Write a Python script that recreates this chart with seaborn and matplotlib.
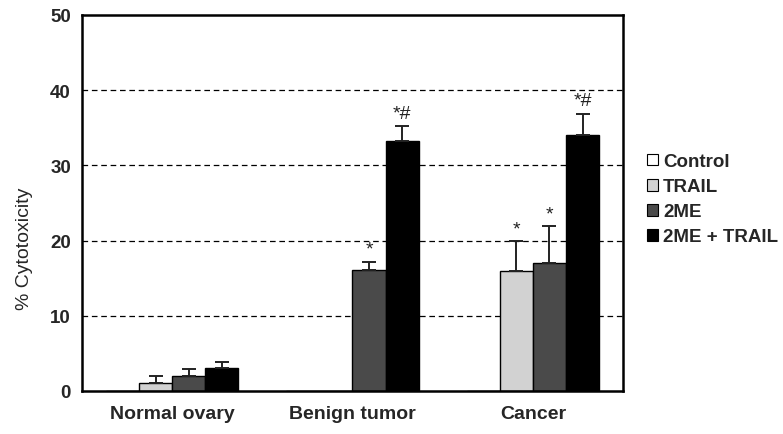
import matplotlib
matplotlib.use("Agg")
import matplotlib.pyplot as plt
import seaborn as sns
import pandas as pd
import numpy as np
from matplotlib.patches import Patch

# Tissue groups and treatments
tissues = ["Normal ovary", "Benign tumor", "Cancer"]
treatments = ["Control", "TRAIL", "2ME", "2ME + TRAIL"]

# Mean % cytotoxicity per treatment (one value per tissue)
control = [0.0, 0.0, 0.0]
trail = [1.0, 0.0, 15.9]
two_me = [2.0, 16.1, 17.0]
two_me_trail = [3.0, 33.2, 34.0]

# Upper error (SD) per treatment
control_err = [0.0, 0.0, 0.0]
trail_err = [1.0, 0.0, 4.0]
two_me_err = [0.9, 1.1, 4.9]
two_me_trail_err = [0.9, 2.0, 2.9]

# Significance marks above bars
control_sig = ["", "", ""]
trail_sig = ["", "", "*"]
two_me_sig = ["", "*", "*"]
two_me_trail_sig = ["", "*#", "*#"]

colors = ["#ffffff", "#d2d2d2", "#4a4a4a", "#000000"]

values = [control, trail, two_me, two_me_trail]
errors = [control_err, trail_err, two_me_err, two_me_trail_err]
marks = [control_sig, trail_sig, two_me_sig, two_me_trail_sig]

rows = []
for t, vals, errs, sig in zip(treatments, values, errors, marks):
    for tissue, v, e, s in zip(tissues, vals, errs, sig):
        rows.append({"Tissue": tissue, "Treatment": t, "Value": v, "Err": e, "Sig": s})
df = pd.DataFrame(rows)

sns.set_theme(style="white")
plt.rcParams["font.family"] = ["Liberation Sans", "DejaVu Sans"]

fig = plt.figure(figsize=(7.83, 4.35), dpi=100)
ax = fig.add_axes([82 / 783, 43 / 435, 541 / 783, 376 / 435])

# Dashed reference lines
for yv in [10, 20, 30, 40]:
    ax.axhline(yv, color="black", linestyle=(0, (4.5, 3)), linewidth=0.9, zorder=0)

sns.barplot(data=df, x="Tissue", y="Value", hue="Treatment",
            order=tissues, hue_order=treatments, palette=colors,
            errorbar=None, width=0.735, edgecolor="black", linewidth=1.0,
            saturation=1, legend=False, ax=ax, zorder=2)

# Upper error bars and significance marks, taken from the drawn bars
n_t = len(tissues)
for i, t in enumerate(treatments):
    bars = ax.patches[i * n_t:(i + 1) * n_t]
    for j, bar in enumerate(bars):
        sub = df[(df.Treatment == t) & (df.Tissue == tissues[j])].iloc[0]
        xc = bar.get_x() + bar.get_width() / 2
        h = bar.get_height()
        if sub.Err > 0:
            ax.errorbar(xc, h, yerr=[[0], [sub.Err]], fmt="none",
                        ecolor="#222222", elinewidth=1.4, capsize=4.7,
                        capthick=1.4, zorder=3)
        if sub.Sig:
            ax.annotate(sub.Sig, (xc, h + sub.Err), xytext=(0, 3),
                        textcoords="offset points", ha="center", va="bottom",
                        fontsize=14, color="#222222")

ax.set_ylim(0, 50)
ax.set_xlim(-0.5, 2.5)
ax.set_yticks([0, 10, 20, 30, 40, 50])
ax.set_yticklabels(["0", "10", "20", "30", "40", "50"], fontsize=13.5, fontweight="bold")
ax.set_xticks([0, 1, 2])
ax.set_xticklabels(tissues, fontsize=14, fontweight="bold")
ax.set_xticks([0.5, 1.5, 2.5], minor=True)
ax.tick_params(axis="x", which="major", length=0, pad=10)
ax.tick_params(axis="x", which="minor", length=5, width=1.5, direction="out", color="black")
ax.tick_params(axis="y", length=5, width=1.5, direction="out", color="black", pad=3)
ax.set_xlabel("")
ax.set_ylabel("% Cytotoxicity", fontsize=14)
ax.yaxis.set_label_coords(-0.091, 0.38)

for side in ["left", "bottom", "right", "top"]:
    ax.spines[side].set_visible(True)
    ax.spines[side].set_color("black")
    ax.spines[side].set_linewidth(1.8)

handles = [Patch(facecolor=c, edgecolor="black", linewidth=0.8) for c in colors]
leg = fig.legend(handles, treatments, loc="upper left",
                 bbox_to_anchor=(634 / 783, 1 - 141 / 435), frameon=False,
                 prop={"size": 13.5, "weight": "bold"}, handlelength=0.6,
                 handleheight=0.6, handletextpad=0.25, labelspacing=0.43,
                 borderpad=0.2)

fig.savefig("out.png", dpi=100, facecolor="white")
